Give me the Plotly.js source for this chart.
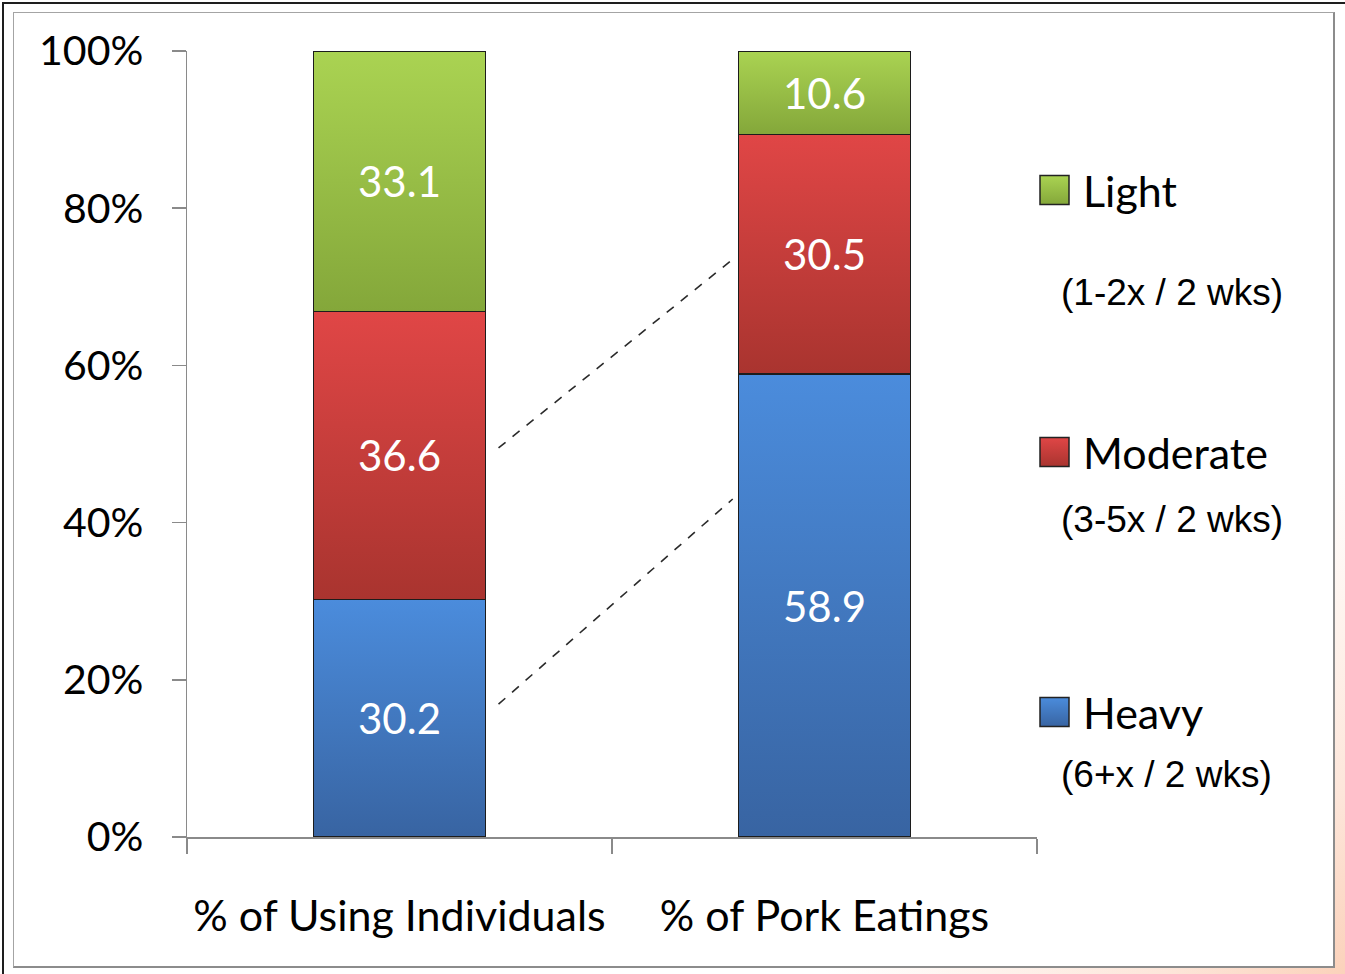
<!DOCTYPE html>
<html>
<head>
<meta charset="utf-8">
<script src="https://cdn.plot.ly/plotly-3.0.1.min.js"></script>
<style>
  html, body { margin: 0; padding: 0; }
  body {
    width: 1345px; height: 974px; overflow: hidden; position: relative;
    background: radial-gradient(circle at 100% 100%, #fbd2bb 0px, #fde6da 180px, #ffffff 520px);
  }
  #outer {
    position: absolute; left: 2px; top: 2px; width: 1343px; height: 972px;
    box-sizing: border-box;
    border-left: 2px solid #1e1e1e; border-top: 2px solid #1e1e1e;
  }
  #panel {
    position: absolute; left: 13px; top: 12px; width: 1322px; height: 956px;
    box-sizing: border-box; background: #ffffff;
    border: 1.5px solid #a4a4a4;
    border-right: 2.5px solid #8c8c8c; border-bottom: 2.5px solid #8c8c8c;
  }
  #chart { position: absolute; left: 0; top: 0; width: 1345px; height: 974px; }
</style>
</head>
<body>
<div id="outer"></div>
<div id="panel"></div>
<div id="chart"></div>
<script>
// ---- data ----
const categories = ['% of Using Individuals', '% of Pork Eatings'];
const seriesNames = ['Heavy', 'Moderate', 'Light'];
const seriesNotes = ['(6+x / 2 wks)', '(3-5x / 2 wks)', '(1-2x / 2 wks)'];
const heavyValues = [30.2, 58.9];
const moderateValues = [36.6, 30.5];
const lightValues = [33.1, 10.6];
const yTickValues = [0, 20, 40, 60, 80, 100];
const yTickLabels = ['0%', '20%', '40%', '60%', '80%', '100%'];

// ---- styling ----
const seriesValues = [heavyValues, moderateValues, lightValues];
const gradientStops = [
  ['#4b8cdc', '#3864a2'],   // heavy (blue)
  ['#e04646', '#a9342f'],   // moderate (red)
  ['#aad352', '#84a73a']    // light (green)
];
const midColors = ['#4178c0', '#c83c3a', '#98bf46'];
const mainFont = 'Lato, "Open Sans", sans-serif';
const noteFont = '"Liberation Sans", Arial, sans-serif';

const W = 1345, H = 974;
const M = { l: 187, r: 308, t: 51, b: 137 };
const plotW = W - M.l - M.r, plotH = H - M.t - M.b;
const px = x => (x - M.l) / plotW;
const py = y => (H - M.b - y) / plotH;

const traces = seriesNames.map((name, i) => ({
  type: 'bar',
  name: name,
  x: categories,
  y: seriesValues[i],
  text: seriesValues[i].map(v => v.toFixed(1)),
  texttemplate: '%{text}',
  textposition: 'inside',
  insidetextanchor: 'middle',
  textangle: 0,
  constraintext: 'none',
  textfont: { family: mainFont, size: 42, color: '#ffffff' },
  marker: { color: midColors[i], line: { color: '#1c1c1c', width: 1.5 } },
  width: 0.405,
  hoverinfo: 'skip'
}));

// legend: swatch + name + frequency note, drawn in paper space
const legendRows = [
  { name: 712, note: 774 },
  { name: 452, note: 519 },
  { name: 190, note: 292 }
];
const shapes = [];
const annotations = [];
legendRows.forEach((row, i) => {
  shapes.push({
    type: 'rect', xref: 'paper', yref: 'paper',
    x0: px(1040), x1: px(1069), y0: py(row.name + 14.5), y1: py(row.name - 14.5),
    fillcolor: midColors[i], line: { color: '#222', width: 1.5 }
  });
  annotations.push({
    xref: 'paper', yref: 'paper', x: px(1081), y: py(row.name),
    xanchor: 'left', yanchor: 'middle', showarrow: false,
    text: seriesNames[i], font: { family: mainFont, size: 43, color: '#000' }
  });
  annotations.push({
    xref: 'paper', yref: 'paper', x: px(1059), y: py(row.note),
    xanchor: 'left', yanchor: 'middle', showarrow: false,
    text: seriesNotes[i], font: { family: noteFont, size: 37, color: '#000' }
  });
});

// dashed connectors between the two bars
[[0.233, 49.5, 0.784, 73.5], [0.233, 16.9, 0.784, 43.0]].forEach(c => {
  shapes.push({
    type: 'line', xref: 'x', yref: 'y',
    x0: c[0], y0: c[1], x1: c[2], y1: c[3],
    line: { color: '#2a2a2a', width: 1.6, dash: 'dash' }
  });
});

const layout = {
  width: W, height: H,
  margin: M,
  barmode: 'stack',
  barnorm: 'percent',
  showlegend: false,
  paper_bgcolor: 'rgba(0,0,0,0)',
  plot_bgcolor: 'rgba(0,0,0,0)',
  font: { family: mainFont, color: '#000' },
  xaxis: {
    type: 'category', range: [-0.5, 1.5],
    showline: true, linecolor: '#8a8a8a', linewidth: 1.5,
    ticks: 'outside', tickson: 'boundaries', ticklen: 15, tickwidth: 1.5, tickcolor: '#8a8a8a',
    tickfont: { family: mainFont, size: 43, color: '#000' },
    ticklabelstandoff: 41,
    showgrid: false, zeroline: false, fixedrange: true
  },
  yaxis: {
    range: [0, 100],
    tickvals: yTickValues, ticktext: yTickLabels,
    showline: true, linecolor: '#8a8a8a', linewidth: 1.5,
    ticks: 'outside', ticklen: 14, tickwidth: 1.5, tickcolor: '#8a8a8a',
    tickfont: { family: mainFont, size: 41, color: '#000' },
    ticklabelstandoff: 20,
    showgrid: false, zeroline: false, fixedrange: true
  },
  shapes: shapes,
  annotations: annotations
};

// vertical light-to-dark fills for bar segments and legend swatches
function applyGradients(gd) {
  const svg = gd.querySelector('svg.main-svg');
  const ns = 'http://www.w3.org/2000/svg';
  const defs = document.createElementNS(ns, 'defs');
  gradientStops.forEach((stops, i) => {
    const g = document.createElementNS(ns, 'linearGradient');
    g.setAttribute('id', 'segfill' + i);
    g.setAttribute('x1', '0'); g.setAttribute('y1', '0');
    g.setAttribute('x2', '0'); g.setAttribute('y2', '1');
    [[0, stops[0]], [1, stops[1]]].forEach(([o, c]) => {
      const s = document.createElementNS(ns, 'stop');
      s.setAttribute('offset', o); s.setAttribute('stop-color', c);
      g.appendChild(s);
    });
    defs.appendChild(g);
  });
  svg.insertBefore(defs, svg.firstChild);
  gd.querySelectorAll('g.trace.bars').forEach((tr, i) => {
    tr.querySelectorAll('g.point path').forEach(p => { p.style.fill = 'url(#segfill' + i + ')'; });
  });
  const shapePaths = gd.querySelectorAll('.shapelayer path');
  for (let i = 0; i < seriesNames.length && i < shapePaths.length; i++) {
    shapePaths[i].style.fill = 'url(#segfill' + i + ')';
  }
}

Plotly.newPlot('chart', traces, layout, { staticPlot: true, displayModeBar: false })
  .then(applyGradients);
</script>
</body>
</html>
